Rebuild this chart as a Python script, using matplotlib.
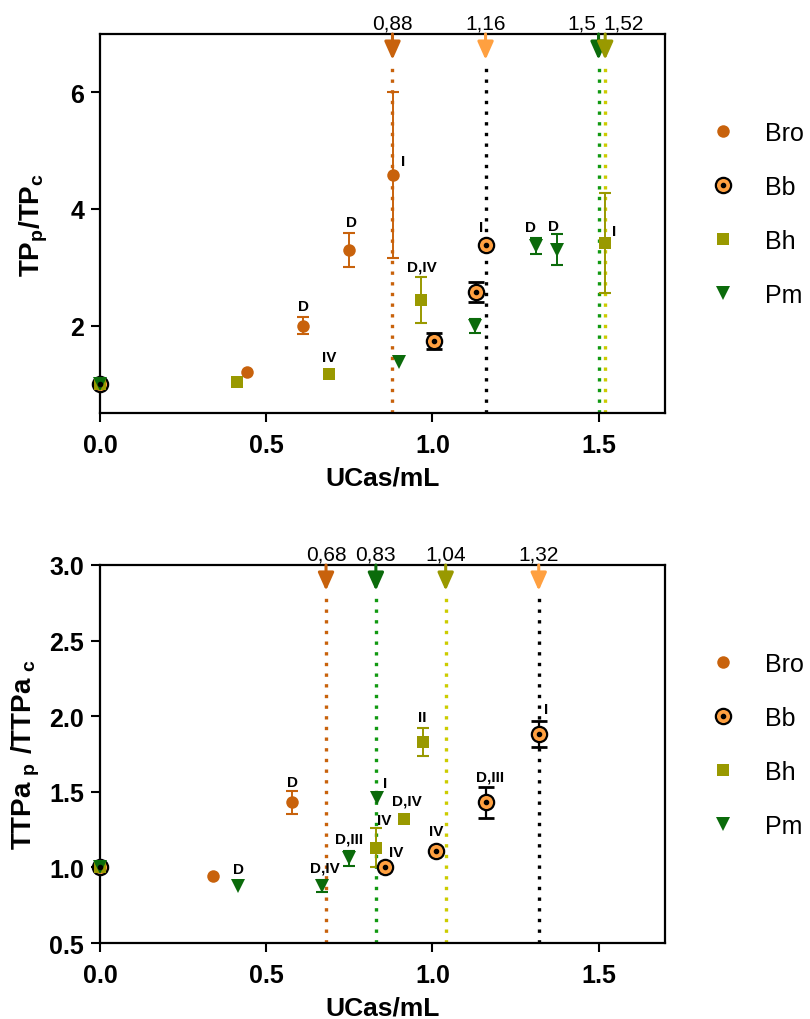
import numpy as np
import matplotlib
matplotlib.use('Agg')
import matplotlib.pyplot as plt
import matplotlib.transforms as mtransforms
from matplotlib.legend_handler import HandlerTuple

plt.rcParams['font.family'] = ['Liberation Sans', 'DejaVu Sans']
plt.rcParams['mathtext.fontset'] = 'custom'
plt.rcParams['mathtext.rm'] = 'Liberation Sans'
plt.rcParams['mathtext.bf'] = 'Liberation Sans:bold'

# colours
c_bro = '#C8620C'
c_bb = '#FFA040'
c_bh = '#999900'
c_pm = '#0B6B0B'
c_pm_line = '#119911'
c_bh_line = '#CCCC00'

series = ['Bro', 'Bb', 'Bh', 'Pm']

# ---- top panel: TPp/TPc
tp_bro_x = [0, 0.443, 0.612, 0.748, 0.883]
tp_bro_y = [1, 1.20, 2.00, 3.30, 4.58]
tp_bro_e = [np.nan, np.nan, 0.14, 0.29, 1.42]

tp_bb_x = [0, 1.006, 1.132, 1.162]
tp_bb_y = [1, 1.73, 2.57, 3.38]
tp_bb_e = [np.nan, 0.14, 0.17, np.nan]

tp_bh_x = [0, 0.413, 0.690, 0.967, 1.518]
tp_bh_y = [1, 1.03, 1.17, 2.44, 3.41]
tp_bh_e = [np.nan, np.nan, np.nan, 0.40, 0.86]

tp_pm_x = [0, 0.900, 1.127, 1.313, 1.376]
tp_pm_y = [1, 1.37, 2.00, 3.36, 3.30]
tp_pm_e = [np.nan, np.nan, 0.12, 0.14, 0.27]

# (series, point index, text, dx pt, dy pt)
tp_notes = [('Bro', 4, 'I', 7, 10), ('Bro', 2, 'D', 0, 14), ('Bro', 3, 'D', 2, 20),
            ('Bh', 2, 'IV', 0, 12), ('Bh', 3, 'D,IV', 0, 24), ('Bb', 3, 'I', -4, 13),
            ('Pm', 3, 'D', -4, 14), ('Pm', 4, 'D', -3, 17), ('Bh', 4, 'I', 7, 9)]

tp_cut_x = [0.88, 1.16, 1.5, 1.52]
tp_cut_lbl = ['0,88', '1,16', '1,5', '1,52']
tp_cut_of = ['Bro', 'Bb', 'Pm', 'Bh']
tp_cut_ha = ['center', 'center', 'right', 'left']

# ---- bottom panel: TTPap/TTPac
tt_bro_x = [0, 0.340, 0.579]
tt_bro_y = [1, 0.94, 1.43]
tt_bro_e = [np.nan, np.nan, 0.075]

tt_bb_x = [0, 0.857, 1.010, 1.160, 1.320]
tt_bb_y = [1, 1.00, 1.11, 1.43, 1.88]
tt_bb_e = [np.nan, np.nan, np.nan, 0.10, 0.085]

tt_bh_x = [0, 0.831, 0.916, 0.971]
tt_bh_y = [1, 1.13, 1.32, 1.83]
tt_bh_e = [np.nan, 0.13, np.nan, 0.09]

tt_pm_x = [0, 0.416, 0.668, 0.750, 0.834]
tt_pm_y = [1, 0.88, 0.88, 1.06, 1.46]
tt_pm_e = [np.nan, np.nan, 0.04, 0.05, np.nan]

tt_notes = [('Bro', 2, 'D', 0, 15), ('Pm', 1, 'D', 0, 12), ('Pm', 2, 'D,IV', 2, 13),
            ('Pm', 3, 'D,III', 0, 14), ('Pm', 4, 'I', 6, 11), ('Bh', 1, 'IV', 6, 20),
            ('Bh', 2, 'D,IV', 2, 13), ('Bb', 1, 'IV', 8, 11), ('Bh', 3, 'II', 0, 18),
            ('Bb', 2, 'IV', 0, 14), ('Bb', 3, 'D,III', 3, 19), ('Bb', 4, 'I', 5, 18)]

tt_cut_x = [0.68, 0.83, 1.04, 1.32]
tt_cut_lbl = ['0,68', '0,83', '1,04', '1,32']
tt_cut_of = ['Bro', 'Pm', 'Bh', 'Bb']
tt_cut_ha = ['center', 'center', 'center', 'center']

# style per series: marker, errorbar colour, cut line colour, arrow colour
style = {
    'Bro': dict(marker='o', ms=9, mfc=c_bro, mec=c_bro, mew=0, ecol=c_bro, line=c_bro, arrow=c_bro),
    'Bb': dict(marker='o', ms=11, mfc=c_bb, mec='black', mew=1.6, ecol='black', line='black', arrow=c_bb),
    'Bh': dict(marker='s', ms=8.5, mfc=c_bh, mec=c_bh, mew=0, ecol=c_bh, line=c_bh_line, arrow=c_bh),
    'Pm': dict(marker='v', ms=9.5, mfc=c_pm, mec=c_pm, mew=0, ecol=c_pm, line=c_pm_line, arrow=c_pm),
}


def draw_panel(ax, data, notes, cut_x, cut_lbl, cut_of, cut_ha, ylim, yticks, yfmt,
               ylabel, ylab_x, leg_y):
    ax.set_xlim(0, 1.7)
    ax.set_ylim(*ylim)
    trans = mtransforms.blended_transform_factory(ax.transData, ax.transAxes)

    # cut-off lines with arrows
    for x, lbl, s, ha in zip(cut_x, cut_lbl, cut_of, cut_ha):
        st = style[s]
        ax.plot([x, x], [0, 0.93], transform=trans, color=st['line'], lw=2.4,
                ls=(0, (1, 2.2)), zorder=1, clip_on=False)
        ax.annotate('', xy=(x, 0.932), xycoords=trans, xytext=(x, 1.0), textcoords=trans,
                    arrowprops=dict(arrowstyle='-|>,head_length=0.9,head_width=0.4',
                                    color=st['arrow'], lw=2.2, mutation_scale=12,
                                    shrinkA=0, shrinkB=0), zorder=4)
        dx = {'center': 0, 'right': -0.006, 'left': -0.006}[ha]
        ax.text(x + dx, 1.004, lbl, transform=trans, ha=ha, va='bottom', fontsize=15)

    handles = []
    for name in series:
        x, y, e = data[name]
        st = style[name]
        ax.errorbar(x, y, yerr=e, fmt='none', ecolor=st['ecol'],
                    elinewidth=1.6 if name == 'Bb' else 1.4,
                    capsize=5.5 if name == 'Bb' else 4.5,
                    capthick=2 if name == 'Bb' else 1.5, zorder=2)
        ln, = ax.plot(x, y, ls='none', marker=st['marker'], ms=st['ms'],
                      mfc=st['mfc'], mec=st['mec'], mew=st['mew'], zorder=3, clip_on=False)
        if name == 'Bb':
            dot, = ax.plot(x, y, ls='none', marker='o', ms=3, color='black', zorder=3.1,
                           clip_on=False)
            handles.append((ln, dot))
        else:
            handles.append(ln)

    for s, i, txt, dx, dy in notes:
        x, y, e = data[s]
        ax.annotate(txt, xy=(x[i], y[i]), xytext=(dx, dy), textcoords='offset points',
                    ha='center', va='center', fontsize=11, fontweight='bold', zorder=5)

    ax.set_xticks([0, 0.5, 1.0, 1.5])
    ax.set_xticklabels(['%.1f' % v for v in [0, 0.5, 1.0, 1.5]])
    ax.set_yticks(yticks)
    ax.set_yticklabels([yfmt % v for v in yticks])
    ax.tick_params(direction='out', length=6.5, width=1.5, labelsize=18)
    ax.tick_params(axis='x', pad=8)
    ax.tick_params(axis='y', pad=5)
    for lab in ax.get_xticklabels() + ax.get_yticklabels():
        lab.set_fontweight('bold')
    for sp in ax.spines.values():
        sp.set_linewidth(1.6)
    ax.set_xlabel('UCas/mL', fontsize=19, fontweight='bold', labelpad=6)
    ax.set_ylabel(ylabel, fontsize=20, va='center')
    ax.yaxis.set_label_coords(ylab_x, 0.5)

    ax.legend(handles, series, handler_map={tuple: HandlerTuple(ndivide=1)},
              loc='upper left', bbox_to_anchor=(1.04, leg_y), frameon=False,
              fontsize=18, handlelength=1.0, handletextpad=1.2, labelspacing=1.2)


fig = plt.figure(figsize=(8.1, 10.2), dpi=100)
ax1 = fig.add_axes([0.1235, 0.5941, 0.6975, 0.3716])
ax2 = fig.add_axes([0.1235, 0.0745, 0.6975, 0.3706])

tp_data = {'Bro': (tp_bro_x, tp_bro_y, tp_bro_e), 'Bb': (tp_bb_x, tp_bb_y, tp_bb_e),
           'Bh': (tp_bh_x, tp_bh_y, tp_bh_e), 'Pm': (tp_pm_x, tp_pm_y, tp_pm_e)}
tt_data = {'Bro': (tt_bro_x, tt_bro_y, tt_bro_e), 'Bb': (tt_bb_x, tt_bb_y, tt_bb_e),
           'Bh': (tt_bh_x, tt_bh_y, tt_bh_e), 'Pm': (tt_pm_x, tt_pm_y, tt_pm_e)}

draw_panel(ax1, tp_data, tp_notes, tp_cut_x, tp_cut_lbl, tp_cut_of, tp_cut_ha,
           (0.5, 7), [2, 4, 6], '%d', r'$\mathbf{TP_p/TP_c}$', -0.117, 0.83)
draw_panel(ax2, tt_data, tt_notes, tt_cut_x, tt_cut_lbl, tt_cut_of, tt_cut_ha,
           (0.5, 3.0), [0.5, 1.0, 1.5, 2.0, 2.5, 3.0], '%.1f',
           r'$\mathbf{TTPa_{\ p}\ /TTPa_{\ c}}$', -0.131, 0.83)

fig.savefig('out.png', dpi=100)
